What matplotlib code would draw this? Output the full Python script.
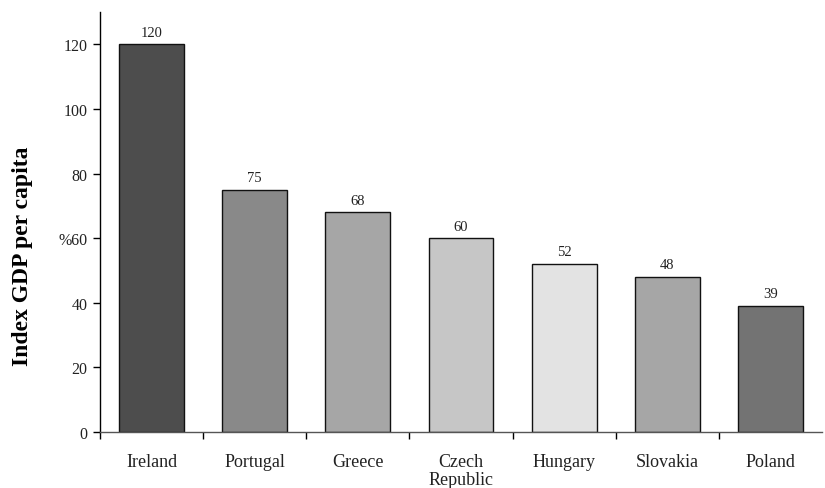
import matplotlib
matplotlib.use("Agg")
import matplotlib.pyplot as plt
from matplotlib.ticker import FixedLocator

countries = ["Ireland", "Portugal", "Greece", "Czech\nRepublic", "Hungary", "Slovakia", "Poland"]
gdp_index = [120, 75, 68, 60, 52, 48, 39]
bar_colors = ["#4d4d4d", "#898989", "#a6a6a6", "#c6c6c6", "#e3e3e3", "#a6a6a6", "#737373"]
ytick_values = [0, 20, 40, 60, 80, 100, 120]
ytick_labels = ["0", "20", "40", "%60", "80", "100", "120"]

plt.rcParams["font.family"] = ["Liberation Serif", "DejaVu Serif"]

fig = plt.figure(figsize=(8.25, 4.89), dpi=100)
ax = fig.add_axes([100 / 825, 1 - 433 / 489, 722 / 825, 420 / 489])

x = list(range(len(countries)))
ax.bar(x, gdp_index, width=0.63, color=bar_colors, edgecolor="#111111", linewidth=1.0, zorder=2)

for xi, v in zip(x, gdp_index):
    ax.annotate(str(v), (xi, v), xytext=(0, 4), textcoords="offset points",
                ha="center", va="bottom", fontsize=10.5, color="#222222")

ax.set_xlim(-0.5, len(countries) - 0.5)
ax.set_ylim(0, 130)

ax.set_yticks(ytick_values)
ax.set_yticklabels(ytick_labels, fontsize=11.5, color="#222222")
ax.tick_params(axis="y", direction="out", length=5, width=1, pad=4)

ax.set_xticks(x)
ax.set_xticklabels(countries, fontsize=13, color="#222222", linespacing=1.1)
ax.tick_params(axis="x", which="major", length=0, pad=15)
ax.xaxis.set_minor_locator(FixedLocator([i - 0.5 for i in range(len(countries))]))
ax.tick_params(axis="x", which="minor", direction="out", length=5, width=1)

for side in ("top", "right"):
    ax.spines[side].set_visible(False)
ax.spines["left"].set_linewidth(1)
ax.spines["bottom"].set_linewidth(1)
ax.spines["bottom"].set_color("#555555")

ax.set_ylabel("Index GDP per capita", fontsize=17, fontweight="bold")
ax.yaxis.set_label_coords(-0.093, 0.42)

fig.savefig("out.png", dpi=100)
